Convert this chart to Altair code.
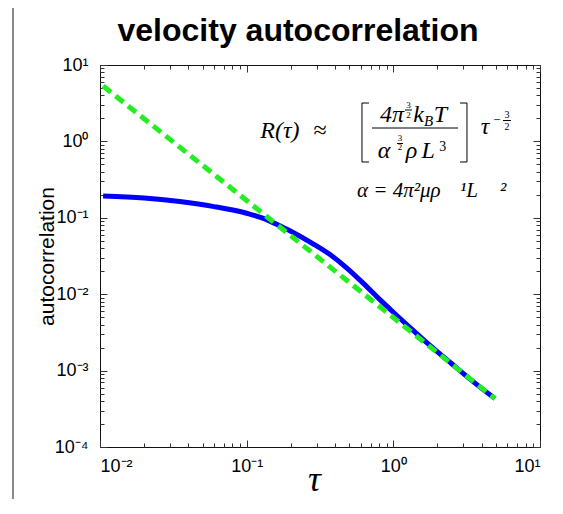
import altair as alt
import pandas as pd

# ---- data ----
tau_blue = [0.0105, 0.02, 0.035, 0.06, 0.1, 0.13, 0.16, 0.2, 0.28, 0.37, 0.48, 0.62,
            0.8, 1.0, 1.3, 1.69, 2.5, 3.5, 4.93]
r_blue = [0.193, 0.182, 0.163, 0.140, 0.1146, 0.0985, 0.0822, 0.0667, 0.0463, 0.0330,
          0.02214, 0.01406, 0.00869, 0.0058, 0.00365, 0.00233, 0.00123, 0.000718, 0.00043]

tau_green = [0.0105, 4.93]
r_green = [5.31, 0.00043]

x_major = [0.01, 0.1, 1, 10]
x_minor = [0.02, 0.03, 0.04, 0.05, 0.06, 0.07, 0.08, 0.09,
           0.2, 0.3, 0.4, 0.5, 0.6, 0.7, 0.8, 0.9,
           2, 3, 4, 5, 6, 7, 8, 9]
y_major = [1e-4, 1e-3, 1e-2, 1e-1, 1, 10]
y_minor = [2e-4, 3e-4, 4e-4, 5e-4, 6e-4, 7e-4, 8e-4, 9e-4,
           2e-3, 3e-3, 4e-3, 5e-3, 6e-3, 7e-3, 8e-3, 9e-3,
           0.02, 0.03, 0.04, 0.05, 0.06, 0.07, 0.08, 0.09,
           0.2, 0.3, 0.4, 0.5, 0.6, 0.7, 0.8, 0.9,
           2, 3, 4, 5, 6, 7, 8, 9]

# chart title, anchored above the plot in data coordinates (tau, R)
title_text = ["velocity autocorrelation"]
title_x = [0.2239]
title_y = [20.6]

# formula annotation pieces, placed in data coordinates (tau, R)
ital_text = ["R(τ)", "4π", "k", "B", "T", "α", "ρ", "L", "τ"]
ital_x = [0.1687, 0.9793, 1.484, 1.737, 2.097, 0.8636, 1.330, 1.730, 4.217]
ital_y = [1.108, 1.794, 1.794, 1.591, 1.794, 0.6064, 0.6064, 0.6064, 1.250]
ital_size = [24, 24, 24, 15, 24, 24, 24, 24, 24]

up_text = ["≈", "3", "2", "3", "2", "3", "−", "3", "2"]
up_x = [0.3162, 1.269, 1.269, 1.110, 1.110, 2.170, 5.091, 5.956, 5.956]
up_y = [1.108, 2.736, 2.024, 1.000, 0.7717, 0.7487, 1.690, 2.024, 1.410]
up_size = [24, 9, 9, 9, 9, 14, 13, 10, 10]

alpha_text = ["α = 4π²μρ", "¹L", "²"]
alpha_x = [0.5651, 2.848, 5.336]
alpha_y = [0.1872, 0.1872, 0.1872]

hbar_x = [0.7151, 0.6113, 0.6113, 2.848, 2.848, 1.201, 1.059, 5.594]
hbar_x2 = [2.760, 0.6823, 0.6823, 3.178, 3.178, 1.340, 1.164, 6.340]
hbar_y = [1.497, 3.181, 0.5377, 3.181, 0.5377, 2.576, 0.9387, 1.877]

vbar_x = [0.6113, 3.178]
vbar_y = [3.181, 3.181]
vbar_y2 = [0.5377, 0.5377]

W, H = 440, 382

blue = pd.DataFrame({"tau": tau_blue, "r": r_blue})
green = pd.DataFrame({"tau": tau_green, "r": r_green})
title_df = pd.DataFrame({"t": title_text, "x": title_x, "y": title_y})
ital = pd.DataFrame({"t": ital_text, "x": ital_x, "y": ital_y, "s": ital_size})
up = pd.DataFrame({"t": up_text, "x": up_x, "y": up_y, "s": up_size})
alpha_df = pd.DataFrame({"t": alpha_text, "x": alpha_x, "y": alpha_y})
hb = pd.DataFrame({"x": hbar_x, "x2": hbar_x2, "y": hbar_y})
vb = pd.DataFrame({"x": vbar_x, "y": vbar_y, "y2": vbar_y2})

xs = alt.Scale(type="log", domain=[0.01, 10], nice=False)
ys = alt.Scale(type="log", domain=[1e-4, 10], nice=False)

xlab = ("datum.value < 0.05 ? '10⁻²' : datum.value < 0.5 ? '10⁻¹' : "
        "datum.value < 5 ? '10⁰' : '10¹'")
ylab = ("datum.value < 0.0005 ? '10⁻⁴' : datum.value < 0.005 ? '10⁻³' : "
        "datum.value < 0.05 ? '10⁻²' : datum.value < 0.5 ? '10⁻¹' : "
        "datum.value < 5 ? '10⁰' : '10¹'")

LBL = dict(labelFont="Liberation Sans", labelFontSize=18, labelColor="black")


def tick_axis(orient, values, size, offset):
    return alt.Axis(orient=orient, offset=offset, values=values, labels=False,
                    ticks=True, tickSize=size, tickColor="#333333", tickWidth=1,
                    domain=False, grid=False, title=None)


# main blue curve with the labelled axes
blue_line = alt.Chart(blue).mark_line(color="#0000ff", strokeWidth=5, clip=True,
                                      interpolate="monotone").encode(
    x=alt.X("tau:Q", scale=xs,
            axis=alt.Axis(orient="bottom", values=x_major, labelExpr=xlab, ticks=False,
                          domain=False, grid=False, labelPadding=10, **LBL,
                          title="τ", titleFont="Liberation Serif", titleFontStyle="italic",
                          titleFontWeight="normal", titleFontSize=36, titleColor="black",
                          titleX=214, titleY=43, titleBaseline="alphabetic",
                          titleAlign="center")),
    y=alt.Y("r:Q", scale=ys,
            axis=alt.Axis(orient="left", values=y_major, labelExpr=ylab, ticks=False,
                          domain=False, grid=False, labelPadding=12, **LBL,
                          title="autocorrelation", titleFont="Liberation Sans",
                          titleFontSize=21, titleFontWeight="normal", titleColor="black",
                          titleX=-47, titleY=H / 2, titleAngle=270,
                          titleBaseline="alphabetic", titleAlign="center")),
)

# green dashed asymptote, carrying inward major ticks (bottom and left edges)
green_line = alt.Chart(green).mark_line(color="#22ee22", strokeWidth=5,
                                        strokeDash=[10, 6], clip=True).encode(
    x=alt.X("tau:Q", scale=xs, axis=tick_axis("top", x_major, 7, -H)),
    y=alt.Y("r:Q", scale=ys, axis=tick_axis("right", y_major, 7, -W)),
)

# invisible carriers for the remaining inward ticks
minor_in = alt.Chart(green).mark_line(opacity=0).encode(
    x=alt.X("tau:Q", scale=xs, axis=tick_axis("top", x_minor, 4, -H)),
    y=alt.Y("r:Q", scale=ys, axis=tick_axis("right", y_minor, 4, -W)),
)
major_far = alt.Chart(green).mark_line(opacity=0).encode(
    x=alt.X("tau:Q", scale=xs, axis=tick_axis("bottom", x_major, 7, -H)),
    y=alt.Y("r:Q", scale=ys, axis=tick_axis("left", y_major, 7, -W)),
)
minor_far = alt.Chart(green).mark_line(opacity=0).encode(
    x=alt.X("tau:Q", scale=xs, axis=tick_axis("bottom", x_minor, 4, -H)),
    y=alt.Y("r:Q", scale=ys, axis=tick_axis("left", y_minor, 4, -W)),
)

# title text
title_txt = alt.Chart(title_df).mark_text(font="Liberation Sans", fontWeight="bold",
                                          fontSize=32, color="black", clip=False,
                                          baseline="alphabetic", align="center").encode(
    x=alt.X("x:Q", scale=xs, axis=None),
    y=alt.Y("y:Q", scale=ys, axis=None),
    text="t:N",
)

# formula annotation
ital_txt = alt.Chart(ital).mark_text(font="Liberation Serif", fontStyle="italic",
                                     color="black", baseline="alphabetic",
                                     align="center").encode(
    x=alt.X("x:Q", scale=xs, axis=None),
    y=alt.Y("y:Q", scale=ys, axis=None),
    text="t:N",
    size=alt.Size("s:Q", scale=None, legend=None),
)
up_txt = alt.Chart(up).mark_text(font="Liberation Serif", color="black",
                                 baseline="alphabetic", align="center").encode(
    x=alt.X("x:Q", scale=xs, axis=None),
    y=alt.Y("y:Q", scale=ys, axis=None),
    text="t:N",
    size=alt.Size("s:Q", scale=None, legend=None),
)
alpha_txt = alt.Chart(alpha_df).mark_text(font="Liberation Serif", fontStyle="italic",
                                          color="black", baseline="alphabetic",
                                          align="left", fontSize=21).encode(
    x=alt.X("x:Q", scale=xs, axis=None),
    y=alt.Y("y:Q", scale=ys, axis=None),
    text="t:N",
)
hbars = alt.Chart(hb).mark_rule(color="black", strokeWidth=1).encode(
    x=alt.X("x:Q", scale=xs, axis=None), x2="x2:Q",
    y=alt.Y("y:Q", scale=ys, axis=None),
)
vbars = alt.Chart(vb).mark_rule(color="black", strokeWidth=1).encode(
    x=alt.X("x:Q", scale=xs, axis=None),
    y=alt.Y("y:Q", scale=ys, axis=None), y2="y2:Q",
)

# outer frame of the picture (decoration)
frame_df = pd.DataFrame({"a": [0]})
frame_left = alt.Chart(frame_df).mark_rule(color="#8a8a8a", strokeWidth=2, clip=False).encode(
    x=alt.value(-87), y=alt.value(-57), y2=alt.value(437))
frame_right = alt.Chart(frame_df).mark_rule(color="#e6e6e6", strokeWidth=1, clip=False).encode(
    x=alt.value(457), y=alt.value(-57), y2=alt.value(437))

chart = alt.layer(
    blue_line, green_line, minor_in, major_far, minor_far, title_txt,
    ital_txt, up_txt, alpha_txt, hbars, vbars, frame_left, frame_right,
).resolve_axis(
    x="independent", y="independent"
).properties(
    width=W, height=H,
    autosize=alt.AutoSizeParams(type="none"),
    padding={"left": 92, "top": 57, "right": 7, "bottom": 52},
    background="white",
).configure_view(stroke="#111111", strokeWidth=1)

chart.save("out.html", embed_options={"renderer": "svg", "actions": False})
